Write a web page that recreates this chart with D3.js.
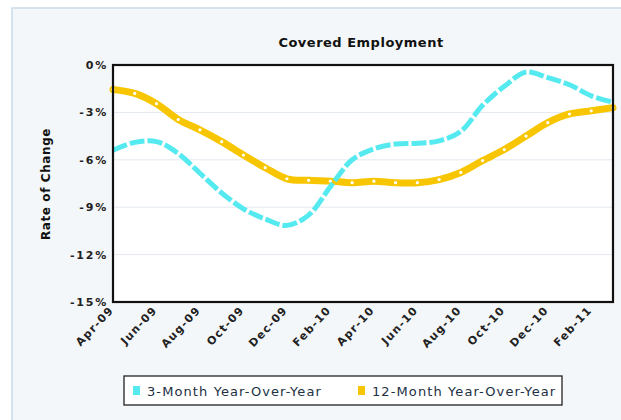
<!DOCTYPE html>
<html><head><meta charset="utf-8">
<script src="https://cdn.jsdelivr.net/npm/d3@7"></script>
<style>
html,body{margin:0;padding:0;background:#fff;}
svg{display:block;font-family:"DejaVu Sans",Verdana,sans-serif;}
</style></head>
<body>
<svg id="c" width="621" height="420"></svg>
<script>
const months = ["Apr-09","May-09","Jun-09","Jul-09","Aug-09","Sep-09","Oct-09","Nov-09","Dec-09","Jan-10","Feb-10","Mar-10","Apr-10","May-10","Jun-10","Jul-10","Aug-10","Sep-10","Oct-10","Nov-10","Dec-10","Jan-11","Feb-11","Mar-11"];
const threeMonth = [-5.4,-4.9,-4.85,-5.6,-6.85,-8.1,-9.1,-9.75,-10.15,-9.5,-7.7,-6.0,-5.3,-5.0,-4.95,-4.8,-4.2,-2.55,-1.35,-0.45,-0.8,-1.25,-1.95,-2.35];
const twelveMonth = [-1.55,-1.8,-2.45,-3.45,-4.1,-4.85,-5.7,-6.5,-7.2,-7.3,-7.35,-7.45,-7.35,-7.45,-7.45,-7.25,-6.8,-6.05,-5.35,-4.5,-3.65,-3.1,-2.9,-2.7];
const yTicks = [0,-3,-6,-9,-12,-15];
const xLabels = ["Apr-09","Jun-09","Aug-09","Oct-09","Dec-09","Feb-10","Apr-10","Jun-10","Aug-10","Oct-10","Dec-10","Feb-11"];
const seriesNames = ["3-Month Year-Over-Year","12-Month Year-Over-Year"];
const colors = ["#55e9f0","#f7c600"];

const svg = d3.select("#c");
// panel
svg.append("rect").attr("x",12).attr("y",8).attr("width",640).attr("height",430)
  .attr("fill","#f4f7f9").attr("stroke","#c9dcea").attr("stroke-width",1.5);

const L=113,R=613,T=65,B=302;
const x = d3.scalePoint().domain(months).range([L,R]);
const y = d3.scaleLinear().domain([-15,0]).range([B,T]);

svg.append("rect").attr("x",L).attr("y",T).attr("width",R-L).attr("height",B-T).attr("fill","#fff");
// grid
svg.append("g").selectAll("line").data(yTicks.filter(d=>d!==0&&d!==-15)).join("line")
  .attr("x1",L).attr("x2",R).attr("y1",d=>y(d)).attr("y2",d=>y(d))
  .attr("stroke","#e4e8f0").attr("stroke-width",1);

// y axis
const ya = svg.append("g").attr("transform",`translate(${L},0)`)
  .call(d3.axisLeft(y).tickValues(yTicks).tickSize(0).tickPadding(5).tickFormat(d=>d+"%"));
ya.select(".domain").remove();
ya.selectAll("text").attr("font-size",11).attr("font-weight","bold").attr("fill","#222")
  .attr("font-family","DejaVu Sans").attr("letter-spacing",1.8);

// x axis
const xa = svg.append("g").attr("transform",`translate(0,${B})`)
  .call(d3.axisBottom(x).tickValues(xLabels).tickSize(0).tickPadding(0));
xa.select(".domain").remove();
xa.selectAll("text").attr("font-size",11).attr("font-weight","bold").attr("fill","#222")
  .attr("font-family","DejaVu Sans").attr("letter-spacing",1.3)
  .attr("text-anchor","end").attr("y",0).attr("dy","0.35em")
  .attr("transform","translate(-2,6) rotate(-47)");

const line = d3.line().x((d,i)=>x(months[i])).y(d=>y(d)).curve(d3.curveCatmullRom.alpha(0.5));

// 12-month line
svg.append("path").datum(twelveMonth).attr("d",line).attr("fill","none")
  .attr("stroke",colors[1]).attr("stroke-width",7).attr("stroke-linecap","round");
svg.append("g").selectAll("circle").data(twelveMonth).join("circle")
  .attr("cx",(d,i)=>x(months[i])).attr("cy",d=>y(d)).attr("r",1.6).attr("fill","#fff");

// 3-month line
svg.append("path").datum(threeMonth).attr("d",line).attr("fill","none")
  .attr("stroke",colors[0]).attr("stroke-width",5).attr("stroke-dasharray","15,3");

// plot border
svg.append("rect").attr("x",L).attr("y",T).attr("width",R-L).attr("height",B-T)
  .attr("fill","none").attr("stroke","#111").attr("stroke-width",2.2);

// title
svg.append("text").attr("x",361).attr("y",47).attr("text-anchor","middle")
  .attr("font-size",13).attr("font-weight","bold").attr("fill","#111").attr("letter-spacing",0.5)
  .text("Covered Employment");
// y label
svg.append("text").attr("transform","translate(50,184) rotate(-90)").attr("text-anchor","middle")
  .attr("font-size",12).attr("font-weight","bold").attr("fill","#111").attr("letter-spacing",0.6)
  .text("Rate of Change");

// legend
const lg = svg.append("g");
lg.append("rect").attr("x",124).attr("y",376).attr("width",438).attr("height",29)
  .attr("fill","#fff").attr("stroke","#222").attr("stroke-width",1.3);
const items = [{n:seriesNames[0],c:colors[0],x:133},{n:seriesNames[1],c:colors[1],x:358}];
items.forEach(it=>{
  lg.append("rect").attr("x",it.x).attr("y",386).attr("width",7).attr("height",9).attr("fill",it.c);
  lg.append("text").attr("x",it.x+14).attr("y",395.5).attr("font-size",13).attr("fill","#223044")
    .attr("font-family","DejaVu Sans").attr("letter-spacing",1.1).text(it.n);
});
</script>
</body></html>
